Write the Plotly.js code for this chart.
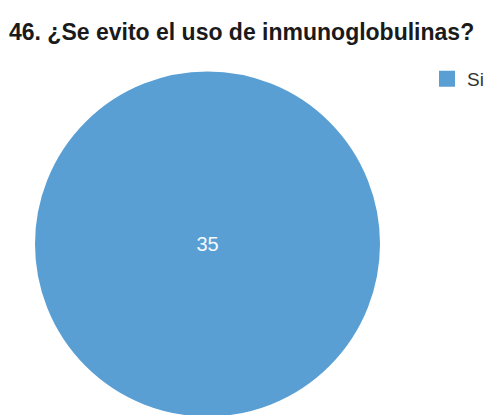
<!DOCTYPE html>
<html>
<head>
<meta charset="utf-8">
<script src="https://cdn.plot.ly/plotly-3.0.1.min.js"></script>
<style>html,body{margin:0;padding:0;background:#fff;}#chart{width:496px;height:415px;}</style>
</head>
<body>
<div id="chart"></div>
<script>
const categories = ["Si"];
const values = [35];
const titleText = "46. ¿Se evito el uso de inmunoglobulinas?";

const trace = {
  type: "pie",
  labels: categories,
  values: values,
  marker: { colors: ["#5a9fd4"], line: { width: 4, color: "#5a9fd4" } },
  textinfo: "value",
  textposition: "inside",
  insidetextorientation: "horizontal",
  textfont: { family: "Liberation Sans, Arial, sans-serif", size: 20, color: "#f4f9ff" },
  sort: false,
  hoverinfo: "none",
  domain: { x: [37/496, 378/496], y: [0, 342/415] }
};

const layout = {
  width: 496,
  height: 415,
  margin: { l: 0, r: 0, t: 0, b: 0 },
  paper_bgcolor: "#ffffff",
  title: {
    text: "<b>" + titleText + "</b>",
    font: { family: "Liberation Sans, Arial, sans-serif", size: 23, color: "#1a1a1a" },
    x: 9/496, xanchor: "left", xref: "paper",
    y: 1 - 32/415, yanchor: "middle", yref: "paper"
  },
  showlegend: true,
  legend: {
    x: 427/496, xanchor: "left", y: 1 - 60/415, yanchor: "top",
    font: { family: "Liberation Sans, Arial, sans-serif", size: 19, color: "#333333" },
    bgcolor: "rgba(0,0,0,0)"
  }
};

Plotly.newPlot("chart", [trace], layout, { displayModeBar: false, staticPlot: true });
</script>
</body>
</html>
